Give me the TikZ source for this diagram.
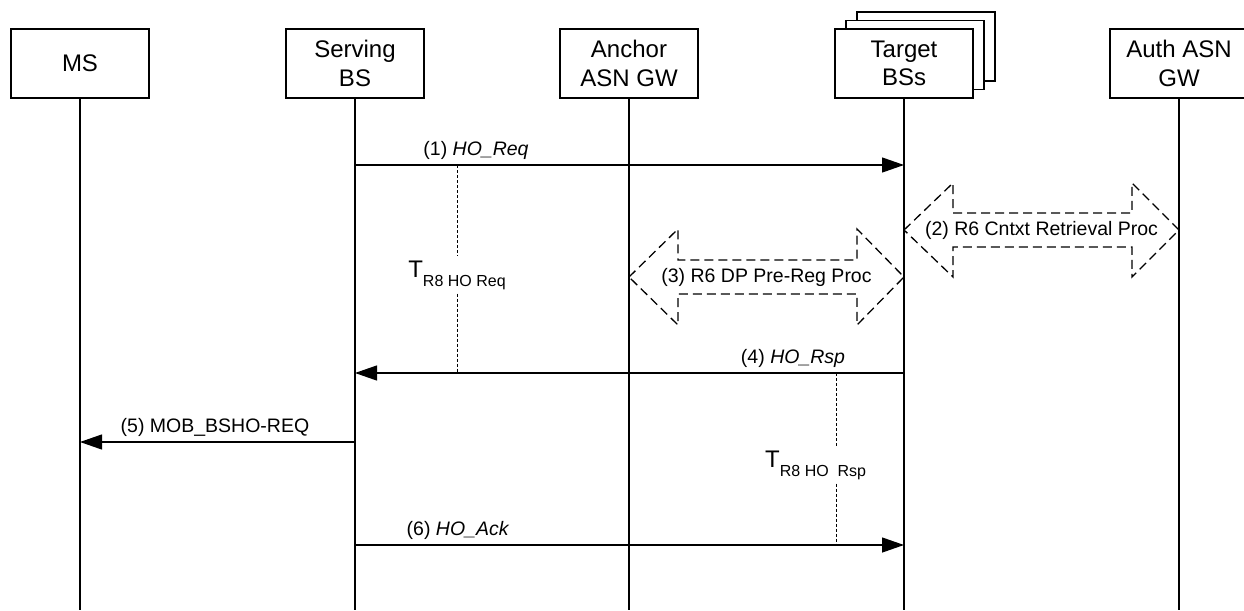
\documentclass[tikz,border=0pt]{standalone}
\usepackage{fontspec}
\setmainfont{Liberation Sans}
\usetikzlibrary{arrows.meta,calc}
\begin{document}
\begin{tikzpicture}[x=1pt,y=-1pt,
  ent/.style={draw, line width=1.3pt, fill=white, minimum width=138pt,
    minimum height=69pt, inner sep=0pt, align=center,
    font=\fontsize{24}{28.7}\selectfont},
  life/.style={line width=1.2pt},
  msg/.style={line width=1.2pt, -{Triangle[length=22pt,width=15pt]}},
  lbl/.style={anchor=base, inner sep=0pt, font=\fontsize{19.5}{23}\selectfont},
  timer/.style={line width=1pt, dash pattern=on 3pt off 2pt},
  tlbl/.style={inner sep=4pt},
  proc/.style={line width=1.3pt, dash pattern=on 9pt off 5pt, line join=miter},
]
\useasboundingbox (0,0) rectangle (1244,610);

% entities
\node[ent] (ms)   at (80,63.5)   {MS};
\node[ent] (sbs)  at (355,63.5)  {Serving\\BS};
\node[ent] (agw)  at (629,63.5)  {Anchor\\ASN GW};
\node[ent] (tbs3) at (926,46.5)  {};
\node[ent] (tbs2) at (915,55)    {};
\node[ent] (tbs)  at (904,63.5)  {Target\\BSs};
\node[ent] (auth) at (1179,63.5) {Auth ASN\\GW};

% lifelines
\coordinate (bot) at (0,610);
\foreach \n in {ms,sbs,agw,tbs,auth}
  \draw[life] (\n.south) -- (\n |- bot);

% message rows
\coordinate (m1) at (0,165);
\coordinate (m2) at (0,230);
\coordinate (m3) at (0,277);
\coordinate (m4) at (0,373);
\coordinate (m5) at (0,442);
\coordinate (m6) at (0,545);

% (1) HO_Req
\draw[msg] (sbs |- m1) -- (tbs |- m1);
\node[lbl] at (476,155) {(1) \textit{HO\_Req}};

% (2) context retrieval procedure
\coordinate (c2l) at (tbs |- m2);
\coordinate (c2r) at (auth |- m2);
\draw[proc] (c2l) -- ++(49,-47) -- ++(0,30) -- ($(c2r)+(-47,-17)$)
  -- ++(0,-30) -- (c2r) -- ++(-47,47) -- ++(0,-30) -- ($(c2l)+(49,17)$)
  -- ++(0,30) -- cycle;
\node[lbl, anchor=center] at ($(c2l)!0.5!(c2r)$) {(2) R6 Cntxt Retrieval Proc};

% (3) data path pre-registration procedure
\coordinate (c3l) at (agw |- m3);
\coordinate (c3r) at (tbs |- m3);
\draw[proc] (c3l) -- ++(49,-48) -- ++(0,31) -- ($(c3r)+(-47,-17)$)
  -- ++(0,-31) -- (c3r) -- ++(-47,48) -- ++(0,-31) -- ($(c3l)+(49,17)$)
  -- ++(0,31) -- cycle;
\node[lbl, anchor=center] at ($(c3l)!0.5!(c3r)$) {(3) R6 DP Pre-Reg Proc};

% timer for HO_Req
\node[tlbl, anchor=base] (tq) at (457,277)
  {{\fontsize{24}{28}\selectfont T}\raisebox{-9pt}{\fontsize{16}{19}\selectfont R8 HO Req}};
\draw[timer] (tq |- m1) -- (tq.north);
\draw[timer] (tq.south) -- (tq |- m4);

% (4) HO_Rsp
\draw[msg] (tbs |- m4) -- (sbs |- m4);
\node[lbl] at (793,363) {(4) \textit{HO\_Rsp}};

% (5) MOB_BSHO-REQ
\draw[msg] (sbs |- m5) -- (ms |- m5);
\node[lbl] at (215,432) {(5) MOB\_BSHO-REQ};

% timer for HO_Rsp
\coordinate (trx) at (836,0);
\node[tlbl, anchor=base west, inner sep=0pt] (tr) at (765,467)
  {{\fontsize{24}{28}\selectfont T}\raisebox{-9pt}{\fontsize{16}{19}\selectfont R8 HO\ \ Rsp}};
\draw[timer] (trx |- m4) -- ($(trx |- tr.north)+(0,-4)$);
\draw[timer] ($(trx |- tr.south)+(0,4)$) -- (trx |- m6);

% (6) HO_Ack
\draw[msg] (sbs |- m6) -- (tbs |- m6);
\node[lbl] at (458,535) {(6) \textit{HO\_Ack}};
\end{tikzpicture}
\end{document}
